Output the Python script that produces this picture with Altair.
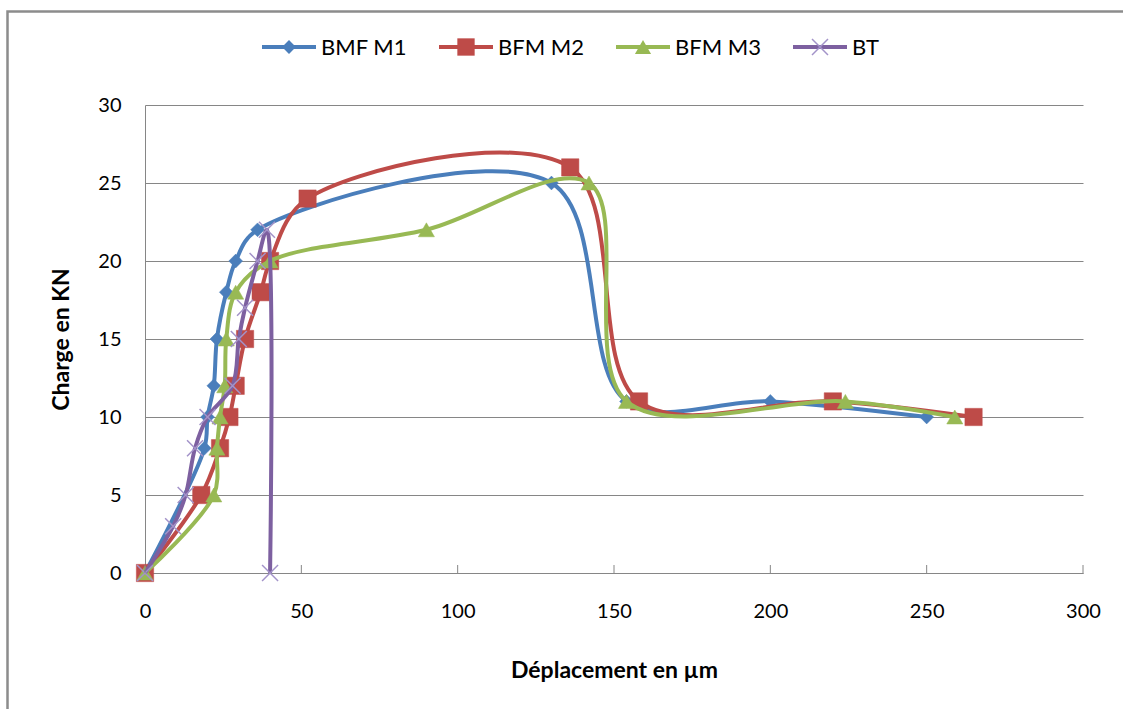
import altair as alt
import pandas as pd

# Series names and colours (Excel-style palette)
series = ["BMF M1", "BFM M2", "BFM M3", "BT"]
line_colors = ["#4A7EBB", "#BE4B48", "#98B954", "#7D60A0"]
marker_colors = ["#4A7EBB", "#BE4B48", "#98B954", "#A393C9"]

# Displacement (µm) / load (kN) readings per specimen
m1_x = [0, 19, 20, 22, 23, 26, 29, 36, 130, 154, 200, 250]
m1_y = [0, 8, 10, 12, 15, 18, 20, 22, 25, 11, 11, 10]

m2_x = [0, 18, 24, 27, 29, 32, 37, 40, 52, 136, 158, 220, 265]
m2_y = [0, 5, 8, 10, 12, 15, 18, 20, 24, 26, 11, 11, 10]

m3_x = [0, 22, 23, 24, 25.5, 26, 29, 40, 90, 142, 154, 224, 259]
m3_y = [0, 5, 8, 10, 12, 15, 18, 20, 22, 25, 11, 11, 10]

bt_x = [0, 9, 13, 16, 20, 28, 30, 32, 36, 39, 40]
bt_y = [0, 3, 5, 8, 10, 12, 15, 17, 20, 22, 0]

x_ticks = [0, 50, 100, 150, 200, 250, 300]
y_ticks = [0, 5, 10, 15, 20, 25, 30]

frames = []
for name, xs_, ys_ in zip(series, [m1_x, m2_x, m3_x, bt_x], [m1_y, m2_y, m3_y, bt_y]):
    frames.append(pd.DataFrame({"serie": name, "dep": xs_, "charge": ys_,
                                "idx": list(range(len(xs_)))}))
df = pd.concat(frames, ignore_index=True)
ticks_df = pd.DataFrame({"dep": x_ticks})
legend_df = pd.DataFrame({"serie": series})

W, H = 938, 468
FONT = "Lato"
GREY = "#868686"

x_enc = alt.X(
    "dep:Q",
    scale=alt.Scale(domain=[0, 300], nice=False),
    axis=alt.Axis(
        values=x_ticks, grid=False, ticks=False, domainColor=GREY, domainWidth=1,
        labelFont=FONT, labelFontSize=20, labelColor="#000", labelPadding=28,
        labelFlush=False, labelOverlap=False,
        title="Déplacement en µm", titleFont=FONT, titleFontSize=23,
        titleFontWeight="bold", titleColor="#000", titlePadding=38,
    ),
)
y_enc = alt.Y(
    "charge:Q",
    scale=alt.Scale(domain=[0, 30], nice=False),
    axis=alt.Axis(
        values=y_ticks, grid=True, gridColor=GREY, gridWidth=1, ticks=False,
        domainColor=GREY, domainWidth=1,
        labelFont=FONT, labelFontSize=20, labelColor="#000", labelPadding=24,
        labelFlush=False, labelOverlap=False,
        title="Charge en KN", titleFont=FONT, titleFontSize=23,
        titleFontWeight="bold", titleColor="#000", titlePadding=24,
    ),
)

shapes = {
    "BMF M1": ("diamond", 190, True),
    "BFM M2": ("square", 300, True),
    "BFM M3": ("triangle-up", 260, True),
    "BT": ("M-1,-1L1,1M-1,1L1,-1", 256, False),
}

layers = []
for name, lc, mc in zip(series, line_colors, marker_colors):
    base = alt.Chart(df).transform_filter(alt.datum.serie == name)
    line = base.mark_line(interpolate="catmull-rom", strokeWidth=4, color=lc).encode(
        x=x_enc, y=y_enc, order="idx:Q"
    )
    shape, size, filled = shapes[name]
    if filled:
        pts = base.mark_point(shape=shape, size=size, filled=True, color=mc,
                              opacity=1, stroke=mc, strokeWidth=0.5)
    else:
        pts = base.mark_point(shape=shape, size=size, filled=False, color=mc,
                              opacity=1, strokeWidth=1.5)
    layers += [line, pts.encode(x=x_enc, y=y_enc)]

# small inward tick marks on the horizontal axis
tick_marks = alt.Chart(ticks_df).mark_rule(color=GREY, strokeWidth=1).encode(
    x=x_enc, y=alt.value(H), y2=alt.value(H - 8),
)

main = alt.layer(*layers, tick_marks)

# legend row above the plot
leg_x = alt.X("serie:N", sort=series,
              scale=alt.Scale(type="point", domain=series, range=[144, 675], padding=0),
              axis=None)
leg_layers = []
for name, lc, mc in zip(series, line_colors, marker_colors):
    lb = alt.Chart(legend_df).transform_filter(alt.datum.serie == name)
    leg_layers.append(
        lb.mark_rule(strokeWidth=4, color=lc, xOffset=-27, x2Offset=27).encode(
            x=leg_x, x2=alt.X2("serie"), y=alt.value(-58)
        )
    )
    shape, size, filled = shapes[name]
    if filled:
        mk = lb.mark_point(shape=shape, size=size, filled=True, color=mc, opacity=1)
    else:
        mk = lb.mark_point(shape=shape, size=size, filled=False, color=mc,
                           opacity=1, strokeWidth=1.5)
    leg_layers.append(mk.encode(x=leg_x, y=alt.value(-58)))
leg_layers.append(
    alt.Chart(legend_df).mark_text(align="left", baseline="middle", dx=32,
                                   font=FONT, fontSize=22, color="#000").encode(
        x=leg_x, y=alt.value(-57), text="serie:N"
    )
)

# outer chart frame
frame = alt.Chart(pd.DataFrame({"k": [0]})).mark_rect(
    fill=None, stroke="#8C8C8C", strokeWidth=2.5
).encode(
    x=alt.value(-137.5), x2=alt.value(W + 80),
    y=alt.value(-93.5), y2=alt.value(H + 200),
)

legend = alt.layer(*leg_layers, frame)

chart = alt.layer(main, legend).resolve_scale(x="independent").properties(
    width=W, height=H,
    autosize=alt.AutoSizeParams(type="none"),
    padding={"left": 145, "top": 105, "right": 40, "bottom": 136},
    background="#FFFFFF",
).configure_view(stroke=None)

chart.save("out.html", embed_options={"renderer": "svg", "actions": False})
